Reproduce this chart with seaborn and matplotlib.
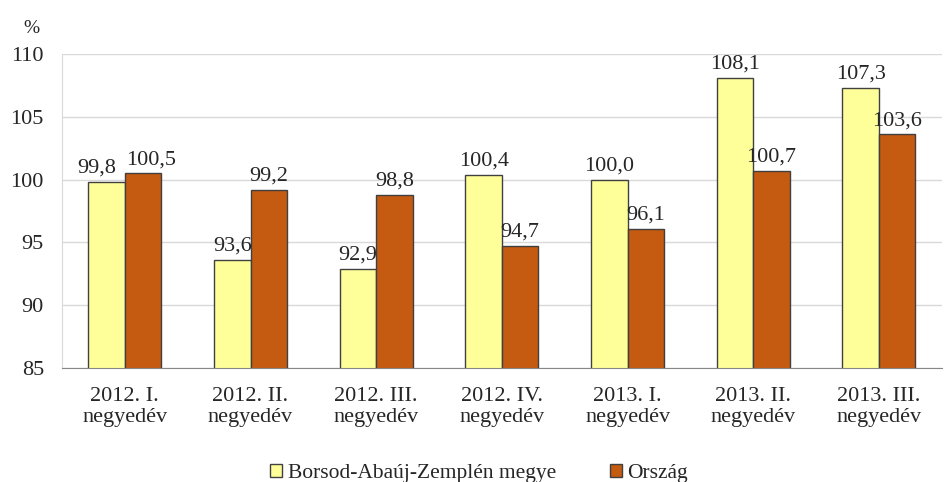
import numpy as np
import pandas as pd
import matplotlib
matplotlib.use("Agg")
import matplotlib.pyplot as plt
from matplotlib import ticker
import seaborn as sns

# adatok
negyedevek = ["2012. I.\nnegyedév", "2012. II.\nnegyedév", "2012. III.\nnegyedév",
              "2012. IV.\nnegyedév", "2013. I.\nnegyedév", "2013. II.\nnegyedév",
              "2013. III.\nnegyedév"]
baz = [99.8, 93.6, 92.9, 100.4, 100.0, 108.1, 107.3]
orszag = [100.5, 99.2, 98.8, 94.7, 96.1, 100.7, 103.6]
sorozatok = ["Borsod-Abaúj-Zemplén megye", "Ország"]

df = pd.DataFrame({
    "Negyedév": negyedevek * 2,
    "Érték": baz + orszag,
    "Terület": [sorozatok[0]] * len(baz) + [sorozatok[1]] * len(orszag),
})

sns.set_style("white")
plt.rcParams['font.family'] = ['Liberation Serif', 'DejaVu Serif']

fig = plt.figure(figsize=(9.45, 4.82), dpi=100)
ax = fig.add_axes([0.0656, 0.2365, 0.931, 0.6515])

sns.barplot(data=df, x="Negyedév", y="Érték", hue="Terület",
            palette=["#FFFF99", "#C55A11"], saturation=1, width=0.58, gap=0,
            edgecolor="#404040", linewidth=1.0, ax=ax, legend=True)

ax.set_ylim(85, 110)
ax.yaxis.set_major_locator(ticker.MultipleLocator(5))
ax.set_xlim(-0.5, len(negyedevek) - 0.5)
ax.grid(axis='y', color='#D9D9D9', linewidth=1)
ax.set_axisbelow(True)
ax.set_xlabel("")
ax.set_ylabel("")

for s in ["top", "right"]:
    ax.spines[s].set_visible(False)
ax.spines["left"].set_color("#D9D9D9")
ax.spines["bottom"].set_color("#868686")

# elválasztó vonalak a kategóriák között
ax.xaxis.set_minor_locator(ticker.FixedLocator(np.arange(-0.5, len(negyedevek), 1)))
ax.tick_params(axis='x', which='major', length=0, pad=14, labelsize=16, colors='#262626')
ax.tick_params(axis='x', which='minor', length=6, color='#868686', width=1)
ax.tick_params(axis='y', length=0, labelsize=16, colors='#262626', pad=13)
for t in ax.get_xticklabels():
    t.set_linespacing(1.1)

# számok a bárok fölött
feliratok = []
for cont in ax.containers:
    feliratok.append(ax.bar_label(cont, labels=[f"{v:.1f}".replace(".", ",") for v in cont.datavalues],
                                  fontsize=16, padding=3, color='#262626'))
# az első csoportban széthúzzuk, hogy ne fedjék egymást
feliratok[0][0].xyann = (-7, 3)
feliratok[1][0].xyann = (6, 3)

fig.text(0.033, 0.94, "%", fontsize=14, color='#262626', ha='center', va='center')

h, l = ax.get_legend_handles_labels()
ax.get_legend().remove()
fig.legend(h, l, loc='lower center', bbox_to_anchor=(0.507, -0.043), ncol=2,
           frameon=False, fontsize=15.5, handlelength=0.56, handleheight=0.56,
           handletextpad=0.25, columnspacing=2.5)

fig.savefig("out.png", dpi=100)
